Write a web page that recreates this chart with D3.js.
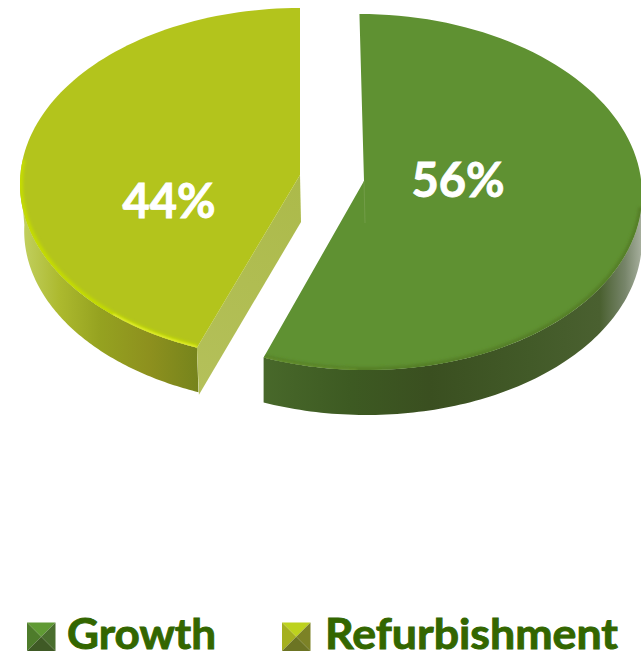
<!DOCTYPE html>
<html>
<head>
<meta charset="utf-8">
<script src="https://cdn.jsdelivr.net/npm/d3@7"></script>
<style>
html,body{margin:0;padding:0;background:#fff;overflow:hidden}
svg{display:block}
text{font-family:Lato,"Open Sans",sans-serif;font-weight:700}
</style>
</head>
<body>
<svg id="chart" width="641" height="655"></svg>
<script>
const categories = ["Growth", "Refurbishment"];
const shares = [56, 44];
const shareLabels = ["56%", "44%"];

const legendInk = "#336600";
const topFills = ["#5f9132", "#b3c41c"];
const rimColors = ["#557f28", "#c4dc00"];
const rimHighlights = ["#6f9a30", "#e6ee3a"];
const sideStops = [
  [[265,"#48682a"],[350,"#3d5a22"],[430,"#3a4f20"],[530,"#425a28"],[600,"#4a6030"],[625,"#77856a"],[641,"#a5ae9c"]],
  [[22,"#c2d060"],[60,"#acb92e"],[100,"#95a220"],[150,"#8d901e"],[198,"#76841c"]]
];
const swatchShades = [
  {top:"#609a34", left:"#4e7c2b", right:"#4a6e2e", bottom:"#3f5a25"},
  {top:"#bdd21e", left:"#a5b01f", right:"#7c8226", bottom:"#6c7423"}
];

// Each wedge has its own ellipse: the pieces are pulled apart and tilted.
// "lean" shears the ellipse so the rim follows the camera perspective.
const discs = [
  {cx:363, cy:192, rx:279, ry:178, lean:0.02, apexX:364, apexY:181, depth:45, wallShrink:1},
  {cx:300, cy:184, rx:280, ry:176, lean:0, apexX:300, apexY:175, depth:47, wallShrink:0.985}
];

const svg = d3.select("#chart");
const defs = svg.append("defs");
defs.append("filter").attr("id","soft").append("feGaussianBlur").attr("stdDeviation",1.8);
defs.append("filter").attr("id","softThin").append("feGaussianBlur").attr("stdDeviation",0.8);

const wedges = d3.pie().sort(null)(shares);
const line = d3.line().x(d => d[0]).y(d => d[1]);

const rimPoint = (disc, a, drop = 0, shrink = 1) => {
  const dy = -disc.ry * shrink * Math.cos(a);
  return [disc.cx + disc.rx * shrink * Math.sin(a) + disc.lean * dy, disc.cy + dy + drop];
};
const sweep = (a0, a1) => d3.range(0, 101).map(i => a0 + (a1 - a0) * i / 100);
const deg = d => d * Math.PI / 180;

sideStops.forEach((stops, i) => {
  const xs = d3.scaleLinear().domain([stops[0][0], stops[stops.length-1][0]]).range([0, 1]);
  const g = defs.append("linearGradient").attr("id","side"+i)
    .attr("gradientUnits","userSpaceOnUse")
    .attr("x1",stops[0][0]).attr("x2",stops[stops.length-1][0]).attr("y1",0).attr("y2",0);
  stops.forEach(s => g.append("stop").attr("offset",xs(s[0])).attr("stop-color",s[1]));
});

const cutGrad = defs.append("linearGradient").attr("id","cutFace")
  .attr("gradientUnits","userSpaceOnUse").attr("x1",200).attr("y1",390).attr("x2",300).attr("y2",180);
cutGrad.append("stop").attr("offset",0).attr("stop-color","#b4c05a");
cutGrad.append("stop").attr("offset",1).attr("stop-color","#acba4a");

const chart = svg.append("g");

wedges.forEach((w, i) => {
  const d = discs[i];
  const g = chart.append("g").attr("class","wedge").attr("data-category",categories[i]);

  // Outer wall, limited to the part of the rim facing the viewer.
  const wallFrom = i === 0 ? Math.max(w.startAngle, deg(90)) : w.startAngle;
  const wallTo = i === 0 ? w.endAngle : deg(272);
  const wallTop = sweep(wallFrom, wallTo).map(a => rimPoint(d, a));
  const wallBottom = sweep(wallFrom, wallTo).map(a => rimPoint(d, a, d.depth, d.wallShrink)).reverse();
  g.append("path").attr("d", line(wallTop.concat(wallBottom)) + "Z").attr("fill", `url(#side${i})`);

  // Flat cut face of the lighter wedge, seen through the gap.
  if (i === 1) {
    const corner = rimPoint(d, w.startAngle);
    g.append("path")
      .attr("d", line([[d.apexX, d.apexY], corner, [corner[0]+2, corner[1]+d.depth], [d.apexX+1, d.apexY+d.depth]]) + "Z")
      .attr("fill","url(#cutFace)");
  }

  // Top surface.
  const outline = [[d.apexX, d.apexY]].concat(sweep(w.startAngle, w.endAngle).map(a => rimPoint(d, a)));
  const topPath = line(outline) + "Z";
  const clipId = "topClip" + i;
  defs.append("clipPath").attr("id",clipId).append("path").attr("d",topPath);
  g.append("path").attr("d",topPath).attr("fill",topFills[i]);

  // Bevel: a soft rim along the curved edge, clipped to the surface.
  const frontArc = i === 0 ? sweep(deg(95), w.endAngle) : sweep(w.startAngle, deg(278));
  const bevel = g.append("g").attr("clip-path",`url(#${clipId})`);
  bevel.append("path").attr("d", line(frontArc.map(a => rimPoint(d, a))))
    .attr("fill","none").attr("stroke",rimColors[i]).attr("stroke-width",6).attr("filter","url(#soft)");
  const glint = i === 0 ? sweep(deg(182), w.endAngle) : sweep(w.startAngle, deg(222));
  bevel.append("path").attr("d", line(glint.map(a => rimPoint(d, a))))
    .attr("fill","none").attr("stroke",rimHighlights[i]).attr("stroke-width",i === 0 ? 1.5 : 2.5).attr("filter","url(#softThin)");

  // Faint seam where the larger wedge's facets meet, below its centre.
  if (i === 0) {
    g.append("line")
      .attr("x1",d.apexX).attr("y1",d.apexY).attr("x2",d.apexX+1).attr("y2",d.apexY+d.depth-3)
      .attr("stroke","#7ea356").attr("stroke-width",1).attr("opacity",0.6);
  }
});

// Percentage labels on the top surfaces.
const labelSpots = [{x:458, y:197}, {x:169, y:218}];
chart.selectAll("text.share").data(shareLabels).join("text")
  .attr("class","share")
  .attr("x",(_, i) => labelSpots[i].x)
  .attr("y",(_, i) => labelSpots[i].y)
  .attr("text-anchor","middle")
  .attr("font-size",47)
  .attr("fill","#fff")
  .attr("stroke","#fff").attr("stroke-width",0.9)
  .text(d => d);

// Legend with pyramid-shaded keys.
const legendItems = [{x:27, textX:67, textLen:149}, {x:282, textX:325, textLen:293}];
const keySize = 28.5, keyY = 622.5;
const legend = svg.append("g").attr("class","legend");
categories.forEach((name, i) => {
  const item = legend.append("g");
  const x0 = legendItems[i].x, x1 = x0 + keySize, y0 = keyY, y1 = keyY + keySize;
  const mx = (x0 + x1) / 2, my = (y0 + y1) / 2;
  const s = swatchShades[i];
  [
    [[x0,y0],[x1,y0],[mx,my],s.top],
    [[x0,y0],[x0,y1],[mx,my],s.left],
    [[x1,y0],[x1,y1],[mx,my],s.right],
    [[x0,y1],[x1,y1],[mx,my],s.bottom]
  ].forEach(t => item.append("path").attr("d", line(t.slice(0,3)) + "Z").attr("fill",t[3]));
  item.append("text")
    .attr("x",legendItems[i].textX).attr("y",649)
    .attr("font-size",42).attr("fill",legendInk)
    .attr("stroke",legendInk).attr("stroke-width",0.9)
    .attr("textLength",legendItems[i].textLen).attr("lengthAdjust","spacingAndGlyphs")
    .text(name);
});
</script>
</body>
</html>
